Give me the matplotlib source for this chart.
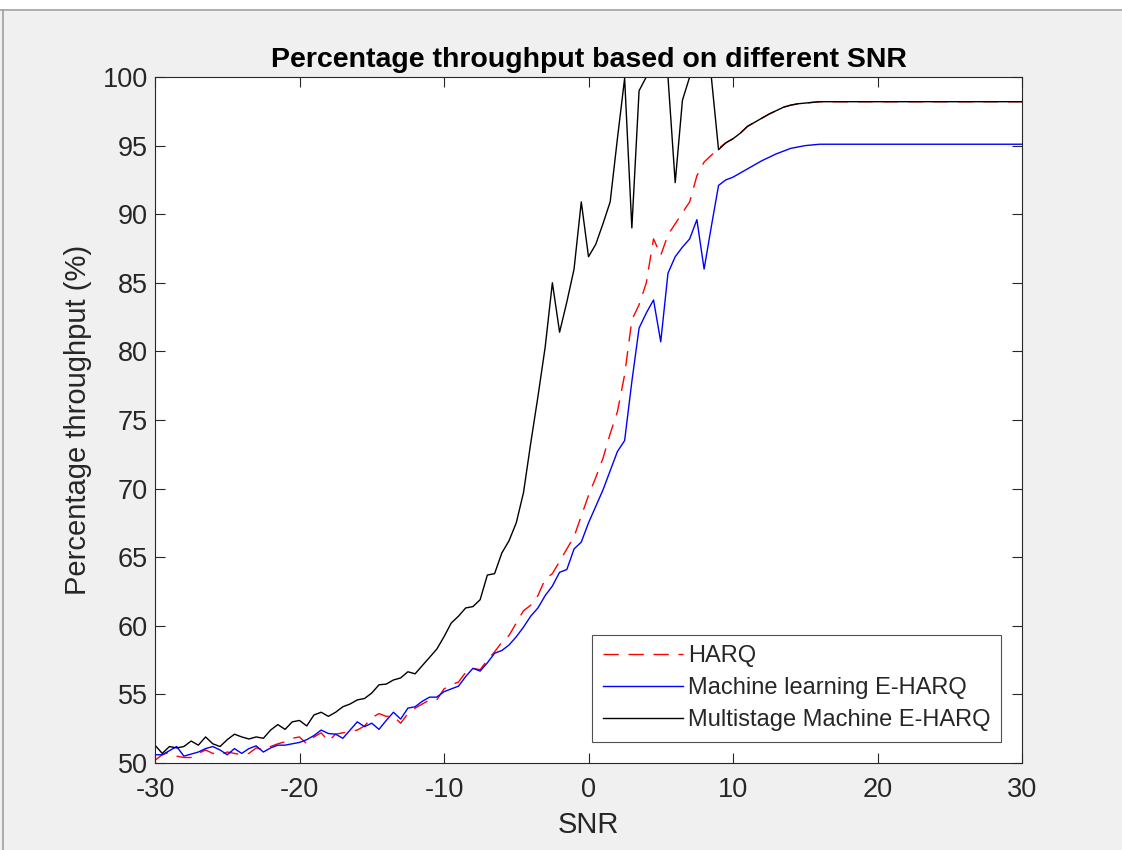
import numpy as np
import matplotlib
matplotlib.use("Agg")
import matplotlib.pyplot as plt
from matplotlib.lines import Line2D

plt.rcParams['font.family'] = ['Liberation Sans', 'DejaVu Sans']
plt.rcParams['axes.unicode_minus'] = False

# SNR sweep in dB, 0.5 dB steps
snr = np.arange(-30, 30.5, 0.5)

harq = [
    50.2, 50.6, 50.8, 50.5, 50.4, 50.4, 50.7, 50.95, 50.7, 50.6,
    50.8, 50.7, 50.6, 50.7, 51.1, 50.95, 51.2, 51.4, 51.55, 51.8,
    51.9, 51.4, 51.9, 52.2, 51.6, 52.1, 52.2, 52.3, 52.4, 52.7,
    53.3, 53.6, 53.4, 53.4, 52.9, 53.6, 54.0, 54.3, 54.6, 54.6,
    55.4, 55.7, 55.9, 56.6, 56.9, 56.8, 57.5, 58.1, 58.8, 59.3,
    60.2, 61.1, 61.5, 62.2, 63.4, 63.8, 64.7, 65.6, 66.5, 68.0,
    69.5, 70.8, 72.2, 74.0, 75.6, 78.3, 82.3, 83.4, 85.0, 88.2,
    87.0, 88.5, 89.3, 90.1, 90.9, 92.8, 93.8, 94.3, 94.8, 95.2,
    95.5, 95.9, 96.4, 96.7, 97.0, 97.3, 97.55, 97.8, 97.95, 98.05,
    98.1, 98.15, 98.2, 98.2, 98.2, 98.2, 98.2, 98.2, 98.2, 98.2,
    98.2, 98.2, 98.2, 98.2, 98.2, 98.2, 98.2, 98.2, 98.2, 98.2,
    98.2, 98.2, 98.2, 98.2, 98.2, 98.2, 98.2, 98.2, 98.2, 98.2,
    98.2,
]

ml_eharq = [
    50.6, 50.6, 50.9, 51.2, 50.5, 50.65, 50.8, 51.05, 51.2, 50.95,
    50.6, 51.05, 50.7, 51.05, 51.25, 50.8, 51.1, 51.3, 51.3, 51.4,
    51.5, 51.7, 52.0, 52.4, 52.15, 52.1, 51.8, 52.4, 53.0, 52.65,
    52.9, 52.45, 53.1, 53.7, 53.2, 54.0, 54.1, 54.5, 54.8, 54.8,
    55.2, 55.4, 55.6, 56.3, 56.9, 56.7, 57.3, 58.0, 58.2, 58.6,
    59.2, 59.9, 60.7, 61.3, 62.2, 62.9, 63.9, 64.1, 65.6, 66.1,
    67.5, 68.7, 69.9, 71.3, 72.7, 73.5, 77.8, 81.7, 82.8, 83.75,
    80.7, 85.7, 86.9, 87.6, 88.2, 89.6, 86.0, 89.1, 92.1, 92.5,
    92.7, 93.0, 93.3, 93.6, 93.9, 94.15, 94.4, 94.6, 94.8, 94.9,
    95.0, 95.05, 95.1, 95.1, 95.1, 95.1, 95.1, 95.1, 95.1, 95.1,
    95.1, 95.1, 95.1, 95.1, 95.1, 95.1, 95.1, 95.1, 95.1, 95.1,
    95.1, 95.1, 95.1, 95.1, 95.1, 95.1, 95.1, 95.1, 95.1, 95.1,
    95.1,
]

multistage = [
    51.3, 50.7, 51.2, 51.1, 51.2, 51.6, 51.3, 51.9, 51.4, 51.2,
    51.7, 52.1, 51.9, 51.75, 51.9, 51.8, 52.4, 52.8, 52.45, 53.0,
    53.1, 52.7, 53.5, 53.7, 53.4, 53.7, 54.1, 54.3, 54.6, 54.7,
    55.1, 55.7, 55.75, 56.05, 56.2, 56.65, 56.5, 57.1, 57.7, 58.3,
    59.2, 60.2, 60.7, 61.3, 61.4, 61.9, 63.7, 63.8, 65.3, 66.2,
    67.5, 69.7, 73.3, 76.7, 80.3, 85.0, 81.4, 83.6, 86.0, 90.9,
    86.9, 87.8, 89.3, 90.9, 95.5, 99.9, 89.0, 99.0, 100.0, 100.0,
    100.0, 100.0, 92.3, 98.3, 100.0, 100.0, 100.0, 100.0, 94.7, 95.2,
    95.5, 95.9, 96.4, 96.7, 97.0, 97.3, 97.55, 97.8, 97.95, 98.05,
    98.1, 98.15, 98.2, 98.2, 98.2, 98.2, 98.2, 98.2, 98.2, 98.2,
    98.2, 98.2, 98.2, 98.2, 98.2, 98.2, 98.2, 98.2, 98.2, 98.2,
    98.2, 98.2, 98.2, 98.2, 98.2, 98.2, 98.2, 98.2, 98.2, 98.2,
    98.2,
]

series_labels = ["HARQ", "Machine learning E-HARQ", "Multistage Machine E-HARQ"]
x_ticks = [-30, -20, -10, 0, 10, 20, 30]
y_ticks = list(range(50, 101, 5))

axis_col = "#262626"

fig = plt.figure(figsize=(11.22, 8.5), dpi=100, facecolor="#f0f0f0")
ax = fig.add_axes([155 / 1122, 87 / 850, 867 / 1122, 686 / 850])

# window frame lines
fig.add_artist(Line2D([0, 1], [1 - 10 / 850] * 2, color="#a0a0a0", lw=1.2))
fig.add_artist(Line2D([3 / 1122] * 2, [0, 1 - 10 / 850], color="#a0a0a0", lw=1.2))
fig.add_artist(plt.Rectangle((0, 1 - 10 / 850), 1, 10 / 850, color="white",
                             transform=fig.transFigure, zorder=-1))

ax.plot(snr, harq, color="red", ls=(0, (11, 7)), lw=1.0, label=series_labels[0])
ax.plot(snr, ml_eharq, color="blue", lw=1.0, label=series_labels[1])
ax.plot(snr, multistage, color="black", lw=1.0, label=series_labels[2])

ax.set_xlim(-30, 30)
ax.set_ylim(50, 100)
ax.set_xticks(x_ticks)
ax.set_yticks(y_ticks)
ax.tick_params(direction="in", top=True, right=True, length=7, width=0.8,
               colors=axis_col, labelsize=19.5, labelcolor=axis_col)
ax.tick_params(axis="x", pad=10)
ax.tick_params(axis="y", pad=5)
for s in ax.spines.values():
    s.set_color(axis_col)
    s.set_linewidth(0.8)

ax.set_title("Percentage throughput based on different SNR", fontsize=20.5,
             fontweight="bold", color="black", pad=7)
ax.set_xlabel("SNR", fontsize=21, color=axis_col, labelpad=6)
ax.set_ylabel("Percentage throughput (%)", fontsize=21, color=axis_col, labelpad=8)

leg = ax.legend(loc="lower right", fontsize=17, frameon=True, fancybox=False,
                edgecolor=axis_col, handlelength=3.4, handletextpad=0.2,
                borderaxespad=0.9, labelspacing=0.42, borderpad=0.45)
leg.get_frame().set_linewidth(0.8)
for t in leg.get_texts():
    t.set_color(axis_col)

fig.savefig("out.png", dpi=100, facecolor=fig.get_facecolor())
